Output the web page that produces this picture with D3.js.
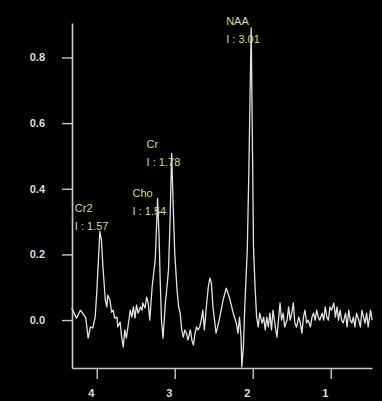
<!DOCTYPE html>
<html>
<head>
<meta charset="utf-8">
<script src="https://cdn.jsdelivr.net/npm/d3@7"></script>
<style>
  html, body { margin: 0; padding: 0; background: #000; }
  svg { display: block; }
  text { font-family: 'Liberation Sans', Arial, sans-serif; }
</style>
</head>
<body>
<div id="chart"></div>
<script>
// chemical shift (ppm) and signal intensity
const ppm = [
  4.32, 4.26, 4.21, 4.18, 4.14, 4.11, 4.08, 4.05, 4.02, 4.00, 3.98, 3.96, 3.94, 3.92, 3.89, 3.87,
  3.86, 3.83, 3.81, 3.79, 3.77, 3.74, 3.73, 3.70, 3.68, 3.66, 3.64, 3.62, 3.60, 3.57, 3.55, 3.53,
  3.51, 3.49, 3.47, 3.44, 3.42, 3.41, 3.38, 3.36, 3.34, 3.32, 3.29, 3.28, 3.25, 3.23, 3.22, 3.20,
  3.19, 3.17, 3.15, 3.12, 3.10, 3.08, 3.06, 3.04, 3.02, 3.00, 2.97, 2.95, 2.93, 2.91, 2.89, 2.87,
  2.85, 2.83, 2.80, 2.78, 2.76, 2.74, 2.72, 2.70, 2.68, 2.66, 2.64, 2.62, 2.59, 2.57, 2.55, 2.53,
  2.51, 2.49, 2.47, 2.43, 2.38, 2.34, 2.30, 2.25, 2.21, 2.19, 2.17, 2.15, 2.14, 2.12, 2.10, 2.07,
  2.05, 2.02, 2.00, 1.99, 1.97, 1.95, 1.93, 1.91, 1.88, 1.86, 1.84, 1.82, 1.80, 1.78, 1.76, 1.74,
  1.71, 1.69, 1.67, 1.65, 1.63, 1.61, 1.59, 1.56, 1.54, 1.52, 1.50, 1.48, 1.46, 1.44, 1.41, 1.39,
  1.37, 1.35, 1.33, 1.31, 1.29, 1.26, 1.24, 1.22, 1.20, 1.18, 1.16, 1.14, 1.11, 1.09, 1.07, 1.05,
  1.03, 1.01, 0.99, 0.96, 0.94, 0.92, 0.90, 0.88, 0.86, 0.84, 0.81, 0.79, 0.77, 0.75, 0.73, 0.71,
  0.69, 0.67, 0.64, 0.62, 0.60, 0.58, 0.56, 0.54, 0.52, 0.49, 0.47
];
const intensity = [
  0.037, 0.006, 0.030, 0.021, 0.006, -0.055, -0.021, -0.024, 0.009, 0.082, 0.174, 0.270, 0.244, 0.161, 0.061, 0.040,
  0.076, 0.061, 0.024, 0.030, 0.006, 0.009, -0.021, -0.006, -0.052, -0.082, -0.030, -0.055, -0.021, 0.030, 0.009, 0.040,
  0.006, 0.046, 0.021, 0.040, 0.030, 0.052, 0.037, 0.070, 0.052, 0.000, 0.100, 0.122, 0.183, 0.304, 0.371, 0.250,
  0.152, 0.000, -0.055, 0.052, 0.100, 0.152, 0.300, 0.508, 0.350, 0.204, 0.091, 0.040, 0.021, -0.030, -0.052, -0.030,
  -0.040, -0.061, -0.030, -0.061, -0.076, -0.040, -0.021, -0.030, -0.021, 0.000, 0.030, -0.030, 0.052, 0.100, 0.128, 0.113,
  0.040, 0.000, -0.040, 0.000, 0.061, 0.097, 0.070, 0.021, -0.009, -0.040, 0.009, -0.052, -0.143, -0.082, 0.052, 0.213,
  0.450, 0.890, 0.450, 0.220, 0.100, 0.009, -0.021, 0.021, -0.009, 0.009, -0.030, 0.009, -0.021, 0.021, -0.030, 0.030,
  -0.021, -0.052, 0.000, 0.052, 0.000, 0.021, -0.021, 0.000, 0.040, 0.000, 0.021, 0.052, -0.009, -0.021, 0.009, -0.009,
  -0.040, 0.009, 0.030, -0.009, 0.000, -0.021, 0.009, 0.021, 0.000, 0.030, 0.009, 0.000, 0.021, 0.000, 0.040, 0.009,
  0.000, 0.040, 0.030, 0.052, 0.009, 0.040, 0.000, 0.030, 0.000, -0.009, 0.021, -0.021, 0.030, 0.000, -0.009, 0.009,
  -0.021, 0.021, 0.000, -0.021, 0.030, 0.009, -0.009, 0.021, -0.021, 0.030, 0.000
];

// metabolite peaks
const metabolites = ['NAA', 'Cr', 'Cho', 'Cr2'];
const peakPpm = [2.02, 3.04, 3.22, 3.96];
const peakIntegral = ['3.01', '1.78', '1.54', '1.57'];

const xTicks = [4, 3, 2, 1];
const yTicks = [0, 0.2, 0.4, 0.6, 0.8];

const WIDTH = 382;
const HEIGHT = 401;
const plot = { left: 72, right: 372, top: 23, bottom: 368 };

const data = ppm.map((p, i) => ({ ppm: p, value: intensity[i] }));

const svg = d3
  .select('#chart')
  .append('svg')
  .attr('width', WIDTH)
  .attr('height', HEIGHT)
  .style('background', '#000');

const x = d3.scaleLinear().domain([4.317, 0.471]).range([plot.left, plot.right]);
const y = d3.scaleLinear().domain([-0.146, 0.905]).range([plot.bottom, plot.top]);

// axes
const yAxis = svg
  .append('g')
  .attr('transform', `translate(${plot.left},0)`)
  .call(
    d3.axisLeft(y).tickValues(yTicks).tickSize(10).tickSizeOuter(0).tickPadding(17).tickFormat(d3.format('.1f'))
  );

const xAxis = svg
  .append('g')
  .attr('transform', `translate(0,${plot.bottom})`)
  .call(d3.axisBottom(x).tickValues(xTicks).tickSize(11).tickSizeOuter(0).tickPadding(10).tickFormat(d3.format('d')));

[yAxis, xAxis].forEach((ax) => {
  ax.select('.domain').attr('stroke', '#c8c8c8').attr('stroke-width', 1.6);
  ax.selectAll('.tick line').attr('stroke', '#c8c8c8').attr('stroke-width', 1.4);
  ax.selectAll('.tick text').attr('fill', '#dedede').style('font-size', '11px').style('font-weight', 'bold');
});
xAxis.selectAll('.tick text').attr('dx', -6);

// spectrum
svg
  .append('path')
  .datum(data)
  .attr('fill', 'none')
  .attr('stroke', '#e2e2e2')
  .attr('stroke-width', 1.3)
  .attr('stroke-linejoin', 'round')
  .attr(
    'd',
    d3
      .line()
      .x((d) => x(d.ppm))
      .y((d) => y(d.value))
  );

// peak labels, placed from the peak's own maximum
const labelDy = [-3, -5, -1, -19];
metabolites.forEach((name, i) => {
  const near = data.filter((d) => Math.abs(d.ppm - peakPpm[i]) < 0.05);
  const top = d3.max(near, (d) => d.value);
  const lx = x(peakPpm[i]) - 25;
  const ly = y(top) + labelDy[i];
  const g = svg.append('g').attr('fill', '#d9d992').style('font-size', '11px');
  g.append('text').attr('x', lx).attr('y', ly).text(name);
  g.append('text').attr('x', lx).attr('y', ly + 18).text(`I : ${peakIntegral[i]}`);
});
</script>
</body>
</html>
